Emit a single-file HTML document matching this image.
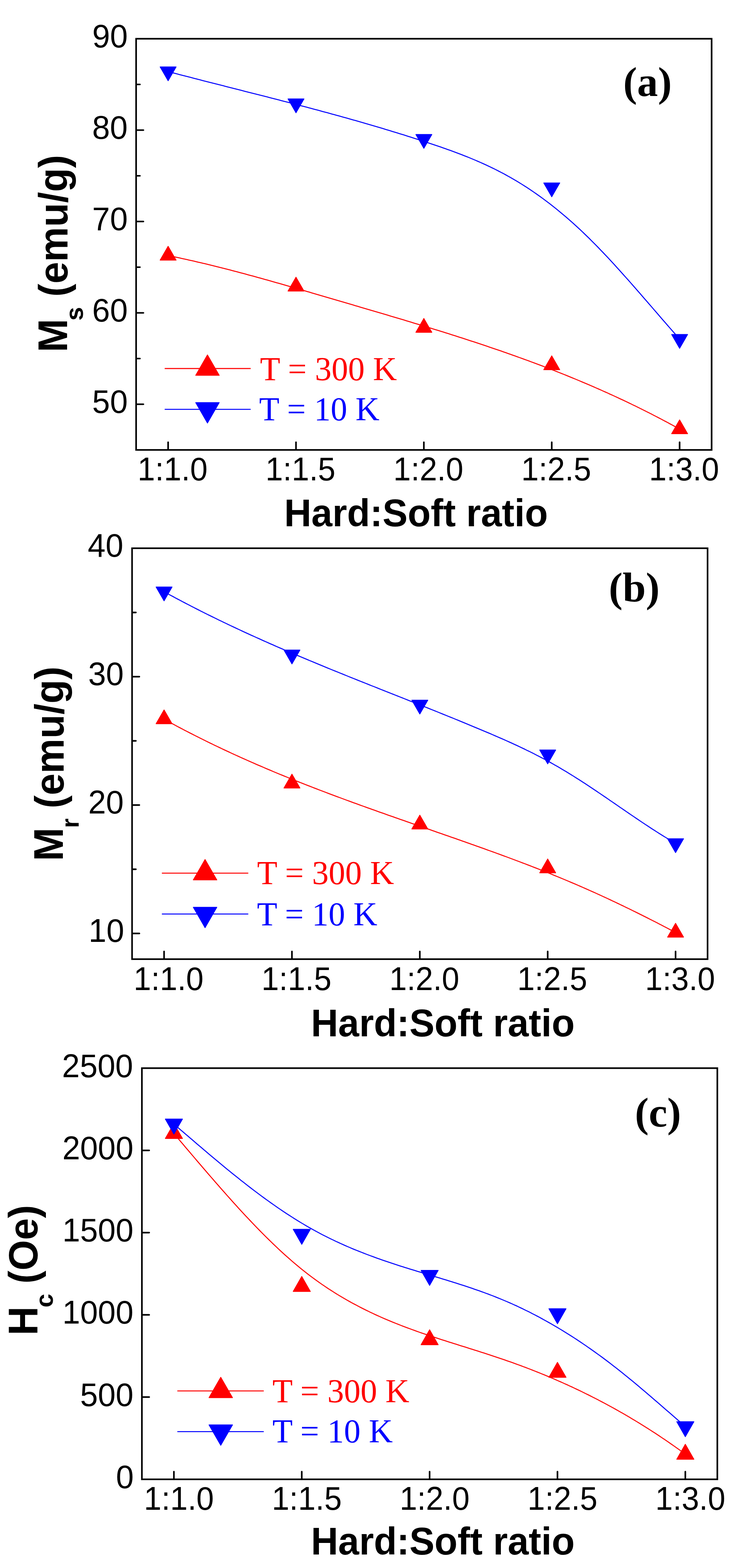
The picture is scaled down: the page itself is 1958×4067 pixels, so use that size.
<!DOCTYPE html>
<html><head><meta charset="utf-8"><title>Magnetic properties vs Hard:Soft ratio</title>
<style>html,body{margin:0;padding:0;background:#fff;}svg{display:block;}</style>
</head><body>
<svg width="1958" height="4067" viewBox="0 0 1958 4067">
<rect x="0" y="0" width="1958" height="4067" fill="#fff"/>
<path d="M435.8,662.8 L441.8,664.0 L447.8,665.3 L453.8,666.5 L459.8,667.8 L465.8,669.1 L471.8,670.4 L477.8,671.7 L483.8,673.0 L489.8,674.4 L495.8,675.7 L501.8,677.1 L507.8,678.5 L513.8,679.9 L519.8,681.3 L525.8,682.7 L531.8,684.1 L537.8,685.6 L543.8,687.0 L549.8,688.5 L555.8,690.0 L561.8,691.5 L567.8,693.0 L573.8,694.5 L579.8,696.0 L585.8,697.5 L591.8,699.1 L597.8,700.6 L603.8,702.2 L609.8,703.8 L615.8,705.3 L621.8,706.9 L627.8,708.5 L633.8,710.1 L639.8,711.8 L645.8,713.4 L651.8,715.0 L657.8,716.6 L663.8,718.3 L669.8,719.9 L675.8,721.6 L681.8,723.3 L687.8,724.9 L693.8,726.6 L699.8,728.3 L705.8,730.0 L711.8,731.7 L717.8,733.4 L723.8,735.1 L729.8,736.8 L735.8,738.5 L741.8,740.2 L747.8,742.0 L753.8,743.7 L759.8,745.4 L765.8,747.2 L771.8,748.9 L777.8,750.6 L783.8,752.4 L789.8,754.1 L795.8,755.9 L801.8,757.6 L807.8,759.4 L813.8,761.2 L819.8,762.9 L825.8,764.7 L831.8,766.4 L837.8,768.2 L843.8,770.0 L849.8,771.7 L855.8,773.5 L861.8,775.3 L867.8,777.0 L873.8,778.8 L879.8,780.5 L885.8,782.3 L891.8,784.1 L897.8,785.8 L903.8,787.6 L909.8,789.3 L915.8,791.1 L921.8,792.9 L927.8,794.6 L933.8,796.4 L939.8,798.2 L945.8,799.9 L951.8,801.7 L957.8,803.4 L963.8,805.2 L969.8,807.0 L975.8,808.7 L981.8,810.5 L987.8,812.3 L993.8,814.1 L999.8,815.8 L1005.8,817.6 L1011.8,819.4 L1017.8,821.2 L1023.8,823.0 L1029.8,824.7 L1035.8,826.5 L1041.8,828.3 L1047.8,830.1 L1053.8,831.9 L1059.8,833.7 L1065.8,835.5 L1071.8,837.4 L1077.8,839.2 L1083.8,841.0 L1089.8,842.8 L1095.8,844.6 L1101.8,846.5 L1107.8,848.3 L1113.8,850.2 L1119.8,852.0 L1125.8,853.9 L1131.8,855.7 L1137.8,857.6 L1143.8,859.5 L1149.8,861.3 L1155.8,863.2 L1161.8,865.1 L1167.8,867.0 L1173.8,868.9 L1179.8,870.8 L1185.8,872.7 L1191.8,874.7 L1197.8,876.6 L1203.8,878.5 L1209.8,880.5 L1215.8,882.4 L1221.8,884.4 L1227.8,886.3 L1233.8,888.3 L1239.8,890.3 L1245.8,892.3 L1251.8,894.3 L1257.8,896.3 L1263.8,898.3 L1269.8,900.4 L1275.8,902.4 L1281.8,904.4 L1287.8,906.5 L1293.8,908.6 L1299.8,910.6 L1305.8,912.7 L1311.8,914.8 L1317.8,916.9 L1323.8,919.0 L1329.8,921.2 L1335.8,923.3 L1341.8,925.4 L1347.8,927.6 L1353.8,929.8 L1359.8,931.9 L1365.8,934.1 L1371.8,936.3 L1377.8,938.6 L1383.8,940.8 L1389.8,943.0 L1395.8,945.3 L1401.8,947.5 L1407.8,949.8 L1413.8,952.1 L1419.8,954.4 L1425.8,956.7 L1431.8,959.1 L1437.8,961.4 L1443.8,963.8 L1449.8,966.1 L1455.8,968.5 L1461.8,970.9 L1467.8,973.3 L1473.8,975.8 L1479.8,978.2 L1485.8,980.7 L1491.8,983.1 L1497.8,985.6 L1503.8,988.1 L1509.8,990.7 L1515.8,993.2 L1521.8,995.7 L1527.8,998.3 L1533.8,1000.9 L1539.8,1003.5 L1545.8,1006.1 L1551.8,1008.7 L1557.8,1011.4 L1563.8,1014.1 L1569.8,1016.7 L1575.8,1019.4 L1581.8,1022.2 L1587.8,1024.9 L1593.8,1027.6 L1599.8,1030.4 L1605.8,1033.2 L1611.8,1036.0 L1617.8,1038.8 L1623.8,1041.7 L1629.8,1044.5 L1635.8,1047.4 L1641.8,1050.3 L1647.8,1053.2 L1653.8,1056.2 L1659.8,1059.1 L1665.8,1062.1 L1671.8,1065.1 L1677.8,1068.1 L1683.8,1071.2 L1689.8,1074.2 L1695.8,1077.3 L1701.8,1080.4 L1707.8,1083.5 L1713.8,1086.7 L1719.8,1089.9 L1725.8,1093.0 L1731.8,1096.2 L1737.8,1099.5 L1743.8,1102.7 L1749.8,1106.0 L1755.8,1109.3 L1761.8,1112.6 L1762.5,1113.0" fill="none" stroke="#ff0000" stroke-width="2.6" stroke-linejoin="round" stroke-linecap="round"/>
<path d="M435.5,185.5 L441.5,187.1 L447.5,188.7 L453.5,190.2 L459.5,191.8 L465.5,193.4 L471.5,194.9 L477.5,196.5 L483.5,198.0 L489.5,199.6 L495.5,201.1 L501.5,202.7 L507.5,204.2 L513.5,205.8 L519.5,207.3 L525.5,208.9 L531.5,210.4 L537.5,211.9 L543.5,213.5 L549.5,215.0 L555.5,216.5 L561.5,218.1 L567.5,219.6 L573.5,221.1 L579.5,222.6 L585.5,224.2 L591.5,225.7 L597.5,227.2 L603.5,228.7 L609.5,230.3 L615.5,231.8 L621.5,233.3 L627.5,234.8 L633.5,236.4 L639.5,237.9 L645.5,239.4 L651.5,240.9 L657.5,242.5 L663.5,244.0 L669.5,245.5 L675.5,247.0 L681.5,248.6 L687.5,250.1 L693.5,251.6 L699.5,253.2 L705.5,254.7 L711.5,256.3 L717.5,257.8 L723.5,259.3 L729.5,260.9 L735.5,262.4 L741.5,264.0 L747.5,265.6 L753.5,267.1 L759.5,268.7 L765.5,270.2 L771.5,271.8 L777.5,273.4 L783.5,275.0 L789.5,276.5 L795.5,278.1 L801.5,279.7 L807.5,281.3 L813.5,282.9 L819.5,284.5 L825.5,286.1 L831.5,287.7 L837.5,289.4 L843.5,291.0 L849.5,292.6 L855.5,294.2 L861.5,295.9 L867.5,297.5 L873.5,299.2 L879.5,300.8 L885.5,302.5 L891.5,304.2 L897.5,305.8 L903.5,307.5 L909.5,309.2 L915.5,310.9 L921.5,312.6 L927.5,314.3 L933.5,316.0 L939.5,317.7 L945.5,319.5 L951.5,321.2 L957.5,323.0 L963.5,324.7 L969.5,326.5 L975.5,328.2 L981.5,330.0 L987.5,331.8 L993.5,333.6 L999.5,335.4 L1005.5,337.2 L1011.5,339.0 L1017.5,340.9 L1023.5,342.7 L1029.5,344.5 L1035.5,346.4 L1041.5,348.3 L1047.5,350.1 L1053.5,352.0 L1059.5,353.9 L1065.5,355.8 L1071.5,357.8 L1077.5,359.7 L1083.5,361.6 L1089.5,363.6 L1095.5,365.5 L1101.5,367.5 L1107.5,369.5 L1113.5,371.5 L1119.5,373.5 L1125.5,375.5 L1131.5,377.5 L1137.5,379.6 L1143.5,381.6 L1149.5,383.7 L1155.5,385.8 L1161.5,388.0 L1167.5,390.1 L1173.5,392.3 L1179.5,394.5 L1185.5,396.8 L1191.5,399.0 L1197.5,401.3 L1203.5,403.7 L1209.5,406.0 L1215.5,408.4 L1221.5,410.9 L1227.5,413.4 L1233.5,415.9 L1239.5,418.5 L1245.5,421.1 L1251.5,423.8 L1257.5,426.5 L1263.5,429.3 L1269.5,432.1 L1275.5,435.0 L1281.5,437.9 L1287.5,440.9 L1293.5,444.0 L1299.5,447.1 L1305.5,450.2 L1311.5,453.5 L1317.5,456.8 L1323.5,460.1 L1329.5,463.6 L1335.5,467.1 L1341.5,470.7 L1347.5,474.3 L1353.5,478.0 L1359.5,481.8 L1365.5,485.7 L1371.5,489.6 L1377.5,493.6 L1383.5,497.7 L1389.5,501.9 L1395.5,506.1 L1401.5,510.4 L1407.5,514.7 L1413.5,519.2 L1419.5,523.7 L1425.5,528.3 L1431.5,533.0 L1437.5,537.7 L1443.5,542.5 L1449.5,547.4 L1455.5,552.4 L1461.5,557.4 L1467.5,562.5 L1473.5,567.7 L1479.5,573.0 L1485.5,578.3 L1491.5,583.7 L1497.5,589.2 L1503.5,594.8 L1509.5,600.4 L1515.5,606.2 L1521.5,612.0 L1527.5,617.8 L1533.5,623.8 L1539.5,629.8 L1545.5,635.9 L1551.5,642.0 L1557.5,648.3 L1563.5,654.5 L1569.5,660.9 L1575.5,667.2 L1581.5,673.7 L1587.5,680.2 L1593.5,686.7 L1599.5,693.3 L1605.5,699.9 L1611.5,706.6 L1617.5,713.3 L1623.5,720.0 L1629.5,726.7 L1635.5,733.5 L1641.5,740.4 L1647.5,747.2 L1653.5,754.1 L1659.5,760.9 L1665.5,767.8 L1671.5,774.8 L1677.5,781.7 L1683.5,788.6 L1689.5,795.5 L1695.5,802.5 L1701.5,809.4 L1707.5,816.4 L1713.5,823.3 L1719.5,830.3 L1725.5,837.2 L1731.5,844.1 L1737.5,851.0 L1743.5,857.9 L1749.5,864.7 L1755.5,871.6 L1761.5,878.4 L1762.5,879.5" fill="none" stroke="#0000ff" stroke-width="2.6" stroke-linejoin="round" stroke-linecap="round"/>
<polygon points="436.00,638.80 456.75,674.80 415.25,674.80" fill="#ff0000" stroke="#ff0000" stroke-width="2" stroke-linejoin="round"/>
<polygon points="767.62,718.90 788.38,754.90 746.88,754.90" fill="#ff0000" stroke="#ff0000" stroke-width="2" stroke-linejoin="round"/>
<polygon points="1099.25,825.90 1120.00,861.90 1078.50,861.90" fill="#ff0000" stroke="#ff0000" stroke-width="2" stroke-linejoin="round"/>
<polygon points="1430.88,922.90 1451.62,958.90 1410.12,958.90" fill="#ff0000" stroke="#ff0000" stroke-width="2" stroke-linejoin="round"/>
<polygon points="1762.50,1089.00 1783.25,1125.00 1741.75,1125.00" fill="#ff0000" stroke="#ff0000" stroke-width="2" stroke-linejoin="round"/>
<polygon points="436.00,209.50 456.75,173.50 415.25,173.50" fill="#0000ff" stroke="#0000ff" stroke-width="2" stroke-linejoin="round"/>
<polygon points="767.62,292.60 788.38,256.60 746.88,256.60" fill="#0000ff" stroke="#0000ff" stroke-width="2" stroke-linejoin="round"/>
<polygon points="1099.25,384.80 1120.00,348.80 1078.50,348.80" fill="#0000ff" stroke="#0000ff" stroke-width="2" stroke-linejoin="round"/>
<polygon points="1430.88,510.40 1451.62,474.40 1410.12,474.40" fill="#0000ff" stroke="#0000ff" stroke-width="2" stroke-linejoin="round"/>
<polygon points="1762.50,903.50 1783.25,867.50 1741.75,867.50" fill="#0000ff" stroke="#0000ff" stroke-width="2" stroke-linejoin="round"/>
<rect x="353" y="100.5" width="1492.50" height="1066.50" fill="none" stroke="#000" stroke-width="4.2"/>
<line x1="354.00" y1="1048.50" x2="371.90" y2="1048.50" stroke="#000" stroke-width="4.2" stroke-linecap="round"/>
<line x1="354.00" y1="811.50" x2="371.90" y2="811.50" stroke="#000" stroke-width="4.2" stroke-linecap="round"/>
<line x1="354.00" y1="574.50" x2="371.90" y2="574.50" stroke="#000" stroke-width="4.2" stroke-linecap="round"/>
<line x1="354.00" y1="337.50" x2="371.90" y2="337.50" stroke="#000" stroke-width="4.2" stroke-linecap="round"/>
<line x1="354.00" y1="930.00" x2="362.90" y2="930.00" stroke="#000" stroke-width="4.2" stroke-linecap="round"/>
<line x1="354.00" y1="693.00" x2="362.90" y2="693.00" stroke="#000" stroke-width="4.2" stroke-linecap="round"/>
<line x1="354.00" y1="456.00" x2="362.90" y2="456.00" stroke="#000" stroke-width="4.2" stroke-linecap="round"/>
<line x1="354.00" y1="219.00" x2="362.90" y2="219.00" stroke="#000" stroke-width="4.2" stroke-linecap="round"/>
<line x1="436.00" y1="1166.00" x2="436.00" y2="1147.10" stroke="#000" stroke-width="4.2" stroke-linecap="round"/>
<line x1="767.62" y1="1166.00" x2="767.62" y2="1147.10" stroke="#000" stroke-width="4.2" stroke-linecap="round"/>
<line x1="1099.25" y1="1166.00" x2="1099.25" y2="1147.10" stroke="#000" stroke-width="4.2" stroke-linecap="round"/>
<line x1="1430.88" y1="1166.00" x2="1430.88" y2="1147.10" stroke="#000" stroke-width="4.2" stroke-linecap="round"/>
<line x1="1762.50" y1="1166.00" x2="1762.50" y2="1147.10" stroke="#000" stroke-width="4.2" stroke-linecap="round"/>
<text id="yl_a_50" transform="translate(331.30,1071.14) scale(0.975,1)" font-family="'Liberation Sans',Arial,sans-serif" font-size="85" font-weight="normal" fill="#000" text-anchor="end">50</text>
<text id="yl_a_60" transform="translate(331.30,834.14) scale(0.975,1)" font-family="'Liberation Sans',Arial,sans-serif" font-size="85" font-weight="normal" fill="#000" text-anchor="end">60</text>
<text id="yl_a_70" transform="translate(331.30,597.14) scale(0.975,1)" font-family="'Liberation Sans',Arial,sans-serif" font-size="85" font-weight="normal" fill="#000" text-anchor="end">70</text>
<text id="yl_a_80" transform="translate(331.15,359.90) scale(0.975,1)" font-family="'Liberation Sans',Arial,sans-serif" font-size="85" font-weight="normal" fill="#000" text-anchor="end">80</text>
<text id="yl_a_90" transform="translate(331.45,123.35) scale(0.975,1)" font-family="'Liberation Sans',Arial,sans-serif" font-size="85" font-weight="normal" fill="#000" text-anchor="end">90</text>
<text id="xl_a_0" transform="translate(356.85,1245.85) scale(0.96,1)" font-family="'Liberation Sans',Arial,sans-serif" font-size="85" font-weight="normal" fill="#000" text-anchor="start">1:1.0</text>
<text id="xl_a_1" transform="translate(688.48,1245.85) scale(0.96,1)" font-family="'Liberation Sans',Arial,sans-serif" font-size="85" font-weight="normal" fill="#000" text-anchor="start">1:1.5</text>
<text id="xl_a_2" transform="translate(1020.10,1245.85) scale(0.96,1)" font-family="'Liberation Sans',Arial,sans-serif" font-size="85" font-weight="normal" fill="#000" text-anchor="start">1:2.0</text>
<text id="xl_a_3" transform="translate(1351.72,1245.85) scale(0.96,1)" font-family="'Liberation Sans',Arial,sans-serif" font-size="85" font-weight="normal" fill="#000" text-anchor="start">1:2.5</text>
<text id="xl_a_4" transform="translate(1683.35,1245.85) scale(0.96,1)" font-family="'Liberation Sans',Arial,sans-serif" font-size="85" font-weight="normal" fill="#000" text-anchor="start">1:3.0</text>
<text id="xt_a" transform="translate(737.00,1365.35) scale(0.977,1)" font-family="'Liberation Sans',Arial,sans-serif" font-size="100" font-weight="bold" fill="#000" text-anchor="start">Hard:Soft ratio</text>
<text id="pl_a" transform="translate(1616.25,249.40) scale(1.0,1)" font-family="'Liberation Serif','Times New Roman',serif" font-size="108" font-weight="bold" fill="#000" text-anchor="start">(a)</text>
<line x1="427.1" y1="955.9" x2="650.1" y2="955.9" stroke="#ff0000" stroke-width="2.6"/>
<line x1="427.1" y1="1061.8" x2="650.1" y2="1061.8" stroke="#0000ff" stroke-width="2.6"/>
<polygon points="538.00,920.57 568.50,973.57 507.50,973.57" fill="#ff0000" stroke="#ff0000" stroke-width="2" stroke-linejoin="round"/>
<polygon points="538.00,1097.13 568.50,1044.13 507.50,1044.13" fill="#0000ff" stroke="#0000ff" stroke-width="2" stroke-linejoin="round"/>
<text id="lg1_a" transform="translate(674.35,985.50) scale(1.0,1)" font-family="'Liberation Serif','Times New Roman',serif" font-size="86" font-weight="normal" fill="#ff0000" text-anchor="start">T = 300 K</text>
<text id="lg2_a" transform="translate(672.00,1089.75) scale(1.0,1)" font-family="'Liberation Serif','Times New Roman',serif" font-size="86" font-weight="normal" fill="#0000ff" text-anchor="start">T = 10 K</text>
<path d="M425.3,1865.3 L431.3,1868.6 L437.3,1871.9 L443.3,1875.1 L449.3,1878.4 L455.3,1881.6 L461.3,1884.8 L467.3,1888.0 L473.3,1891.1 L479.3,1894.3 L485.3,1897.4 L491.3,1900.5 L497.3,1903.5 L503.3,1906.6 L509.3,1909.6 L515.3,1912.7 L521.3,1915.7 L527.3,1918.7 L533.3,1921.6 L539.3,1924.6 L545.3,1927.5 L551.3,1930.4 L557.3,1933.3 L563.3,1936.2 L569.3,1939.0 L575.3,1941.9 L581.3,1944.7 L587.3,1947.5 L593.3,1950.3 L599.3,1953.1 L605.3,1955.9 L611.3,1958.6 L617.3,1961.3 L623.3,1964.1 L629.3,1966.8 L635.3,1969.4 L641.3,1972.1 L647.3,1974.8 L653.3,1977.4 L659.3,1980.0 L665.3,1982.7 L671.3,1985.3 L677.3,1987.8 L683.3,1990.4 L689.3,1993.0 L695.3,1995.5 L701.3,1998.0 L707.3,2000.6 L713.3,2003.1 L719.3,2005.6 L725.3,2008.1 L731.3,2010.5 L737.3,2013.0 L743.3,2015.4 L749.3,2017.9 L755.3,2020.3 L761.3,2022.7 L767.3,2025.1 L773.3,2027.5 L779.3,2029.9 L785.3,2032.2 L791.3,2034.6 L797.3,2037.0 L803.3,2039.3 L809.3,2041.6 L815.3,2044.0 L821.3,2046.3 L827.3,2048.6 L833.3,2050.9 L839.3,2053.1 L845.3,2055.4 L851.3,2057.7 L857.3,2060.0 L863.3,2062.2 L869.3,2064.5 L875.3,2066.7 L881.3,2068.9 L887.3,2071.1 L893.3,2073.4 L899.3,2075.6 L905.3,2077.8 L911.3,2080.0 L917.3,2082.2 L923.3,2084.3 L929.3,2086.5 L935.3,2088.7 L941.3,2090.9 L947.3,2093.0 L953.3,2095.2 L959.3,2097.3 L965.3,2099.5 L971.3,2101.6 L977.3,2103.8 L983.3,2105.9 L989.3,2108.0 L995.3,2110.1 L1001.3,2112.3 L1007.3,2114.4 L1013.3,2116.5 L1019.3,2118.6 L1025.3,2120.7 L1031.3,2122.8 L1037.3,2124.9 L1043.3,2127.0 L1049.3,2129.1 L1055.3,2131.2 L1061.3,2133.3 L1067.3,2135.4 L1073.3,2137.5 L1079.3,2139.6 L1085.3,2141.7 L1091.3,2143.8 L1097.3,2145.9 L1103.3,2148.0 L1109.3,2150.0 L1115.3,2152.1 L1121.3,2154.2 L1127.3,2156.3 L1133.3,2158.4 L1139.3,2160.5 L1145.3,2162.6 L1151.3,2164.7 L1157.3,2166.8 L1163.3,2168.8 L1169.3,2170.9 L1175.3,2173.0 L1181.3,2175.1 L1187.3,2177.2 L1193.3,2179.3 L1199.3,2181.5 L1205.3,2183.6 L1211.3,2185.7 L1217.3,2187.8 L1223.3,2189.9 L1229.3,2192.0 L1235.3,2194.2 L1241.3,2196.3 L1247.3,2198.5 L1253.3,2200.6 L1259.3,2202.8 L1265.3,2204.9 L1271.3,2207.1 L1277.3,2209.2 L1283.3,2211.4 L1289.3,2213.6 L1295.3,2215.8 L1301.3,2218.0 L1307.3,2220.2 L1313.3,2222.4 L1319.3,2224.6 L1325.3,2226.9 L1331.3,2229.1 L1337.3,2231.4 L1343.3,2233.6 L1349.3,2235.9 L1355.3,2238.2 L1361.3,2240.4 L1367.3,2242.7 L1373.3,2245.0 L1379.3,2247.4 L1385.3,2249.7 L1391.3,2252.0 L1397.3,2254.4 L1403.3,2256.7 L1409.3,2259.1 L1415.3,2261.5 L1421.3,2263.9 L1427.3,2266.3 L1433.3,2268.8 L1439.3,2271.2 L1445.3,2273.6 L1451.3,2276.1 L1457.3,2278.6 L1463.3,2281.1 L1469.3,2283.6 L1475.3,2286.1 L1481.3,2288.7 L1487.3,2291.2 L1493.3,2293.8 L1499.3,2296.4 L1505.3,2299.0 L1511.3,2301.6 L1517.3,2304.2 L1523.3,2306.9 L1529.3,2309.6 L1535.3,2312.2 L1541.3,2314.9 L1547.3,2317.6 L1553.3,2320.4 L1559.3,2323.1 L1565.3,2325.9 L1571.3,2328.6 L1577.3,2331.4 L1583.3,2334.2 L1589.3,2337.1 L1595.3,2339.9 L1601.3,2342.7 L1607.3,2345.6 L1613.3,2348.5 L1619.3,2351.4 L1625.3,2354.3 L1631.3,2357.2 L1637.3,2360.1 L1643.3,2363.1 L1649.3,2366.0 L1655.3,2369.0 L1661.3,2372.0 L1667.3,2375.0 L1673.3,2378.0 L1679.3,2381.0 L1685.3,2384.1 L1691.3,2387.1 L1697.3,2390.2 L1703.3,2393.2 L1709.3,2396.3 L1715.3,2399.4 L1721.3,2402.6 L1727.3,2405.7 L1733.3,2408.8 L1739.3,2412.0 L1745.3,2415.1 L1751.3,2418.3 L1752.0,2418.7" fill="none" stroke="#ff0000" stroke-width="2.6" stroke-linejoin="round" stroke-linecap="round"/>
<path d="M425.0,1534.5 L431.0,1537.8 L437.0,1541.1 L443.0,1544.3 L449.0,1547.5 L455.0,1550.8 L461.0,1554.0 L467.0,1557.2 L473.0,1560.3 L479.0,1563.5 L485.0,1566.6 L491.0,1569.7 L497.0,1572.8 L503.0,1575.9 L509.0,1579.0 L515.0,1582.0 L521.0,1585.1 L527.0,1588.1 L533.0,1591.1 L539.0,1594.1 L545.0,1597.0 L551.0,1600.0 L557.0,1602.9 L563.0,1605.9 L569.0,1608.8 L575.0,1611.7 L581.0,1614.6 L587.0,1617.4 L593.0,1620.3 L599.0,1623.2 L605.0,1626.0 L611.0,1628.8 L617.0,1631.6 L623.0,1634.4 L629.0,1637.2 L635.0,1640.0 L641.0,1642.7 L647.0,1645.5 L653.0,1648.2 L659.0,1650.9 L665.0,1653.6 L671.0,1656.3 L677.0,1659.0 L683.0,1661.7 L689.0,1664.4 L695.0,1667.0 L701.0,1669.7 L707.0,1672.3 L713.0,1675.0 L719.0,1677.6 L725.0,1680.2 L731.0,1682.8 L737.0,1685.4 L743.0,1688.0 L749.0,1690.5 L755.0,1693.1 L761.0,1695.7 L767.0,1698.2 L773.0,1700.8 L779.0,1703.3 L785.0,1705.8 L791.0,1708.3 L797.0,1710.8 L803.0,1713.4 L809.0,1715.8 L815.0,1718.3 L821.0,1720.8 L827.0,1723.3 L833.0,1725.8 L839.0,1728.2 L845.0,1730.7 L851.0,1733.2 L857.0,1735.6 L863.0,1738.1 L869.0,1740.5 L875.0,1742.9 L881.0,1745.4 L887.0,1747.8 L893.0,1750.2 L899.0,1752.6 L905.0,1755.1 L911.0,1757.5 L917.0,1759.9 L923.0,1762.3 L929.0,1764.7 L935.0,1767.1 L941.0,1769.5 L947.0,1771.9 L953.0,1774.3 L959.0,1776.7 L965.0,1779.1 L971.0,1781.4 L977.0,1783.8 L983.0,1786.2 L989.0,1788.6 L995.0,1791.0 L1001.0,1793.4 L1007.0,1795.7 L1013.0,1798.1 L1019.0,1800.5 L1025.0,1802.9 L1031.0,1805.3 L1037.0,1807.6 L1043.0,1810.0 L1049.0,1812.4 L1055.0,1814.8 L1061.0,1817.2 L1067.0,1819.6 L1073.0,1821.9 L1079.0,1824.3 L1085.0,1826.7 L1091.0,1829.1 L1097.0,1831.5 L1103.0,1833.9 L1109.0,1836.3 L1115.0,1838.7 L1121.0,1841.1 L1127.0,1843.5 L1133.0,1845.9 L1139.0,1848.4 L1145.0,1850.8 L1151.0,1853.2 L1157.0,1855.6 L1163.0,1858.1 L1169.0,1860.5 L1175.0,1862.9 L1181.0,1865.4 L1187.0,1867.8 L1193.0,1870.3 L1199.0,1872.8 L1205.0,1875.2 L1211.0,1877.7 L1217.0,1880.2 L1223.0,1882.7 L1229.0,1885.2 L1235.0,1887.7 L1241.0,1890.2 L1247.0,1892.7 L1253.0,1895.2 L1259.0,1897.7 L1265.0,1900.3 L1271.0,1902.8 L1277.0,1905.4 L1283.0,1908.0 L1289.0,1910.6 L1295.0,1913.2 L1301.0,1915.8 L1307.0,1918.4 L1313.0,1921.1 L1319.0,1923.8 L1325.0,1926.5 L1331.0,1929.2 L1337.0,1932.0 L1343.0,1934.8 L1349.0,1937.6 L1355.0,1940.5 L1361.0,1943.3 L1367.0,1946.3 L1373.0,1949.2 L1379.0,1952.2 L1385.0,1955.2 L1391.0,1958.3 L1397.0,1961.4 L1403.0,1964.5 L1409.0,1967.7 L1415.0,1970.9 L1421.0,1974.2 L1427.0,1977.5 L1433.0,1980.9 L1439.0,1984.3 L1445.0,1987.7 L1451.0,1991.2 L1457.0,1994.8 L1463.0,1998.3 L1469.0,2001.9 L1475.0,2005.6 L1481.0,2009.3 L1487.0,2013.0 L1493.0,2016.8 L1499.0,2020.6 L1505.0,2024.4 L1511.0,2028.3 L1517.0,2032.2 L1523.0,2036.1 L1529.0,2040.1 L1535.0,2044.1 L1541.0,2048.1 L1547.0,2052.1 L1553.0,2056.2 L1559.0,2060.3 L1565.0,2064.3 L1571.0,2068.4 L1577.0,2072.5 L1583.0,2076.7 L1589.0,2080.8 L1595.0,2084.9 L1601.0,2089.0 L1607.0,2093.2 L1613.0,2097.3 L1619.0,2101.4 L1625.0,2105.5 L1631.0,2109.6 L1637.0,2113.7 L1643.0,2117.8 L1649.0,2121.9 L1655.0,2125.9 L1661.0,2130.0 L1667.0,2134.0 L1673.0,2138.0 L1679.0,2141.9 L1685.0,2145.9 L1691.0,2149.8 L1697.0,2153.7 L1703.0,2157.5 L1709.0,2161.3 L1715.0,2165.1 L1721.0,2168.8 L1727.0,2172.5 L1733.0,2176.2 L1739.0,2179.8 L1745.0,2183.3 L1751.0,2186.8 L1752.0,2187.4" fill="none" stroke="#0000ff" stroke-width="2.6" stroke-linejoin="round" stroke-linecap="round"/>
<polygon points="425.50,1841.30 446.25,1877.30 404.75,1877.30" fill="#ff0000" stroke="#ff0000" stroke-width="2" stroke-linejoin="round"/>
<polygon points="757.12,2007.90 777.88,2043.90 736.38,2043.90" fill="#ff0000" stroke="#ff0000" stroke-width="2" stroke-linejoin="round"/>
<polygon points="1088.75,2114.20 1109.50,2150.20 1068.00,2150.20" fill="#ff0000" stroke="#ff0000" stroke-width="2" stroke-linejoin="round"/>
<polygon points="1420.38,2227.90 1441.12,2263.90 1399.62,2263.90" fill="#ff0000" stroke="#ff0000" stroke-width="2" stroke-linejoin="round"/>
<polygon points="1752.00,2394.70 1772.75,2430.70 1731.25,2430.70" fill="#ff0000" stroke="#ff0000" stroke-width="2" stroke-linejoin="round"/>
<polygon points="425.50,1558.50 446.25,1522.50 404.75,1522.50" fill="#0000ff" stroke="#0000ff" stroke-width="2" stroke-linejoin="round"/>
<polygon points="757.12,1722.10 777.88,1686.10 736.38,1686.10" fill="#0000ff" stroke="#0000ff" stroke-width="2" stroke-linejoin="round"/>
<polygon points="1088.75,1852.00 1109.50,1816.00 1068.00,1816.00" fill="#0000ff" stroke="#0000ff" stroke-width="2" stroke-linejoin="round"/>
<polygon points="1420.38,1981.30 1441.12,1945.30 1399.62,1945.30" fill="#0000ff" stroke="#0000ff" stroke-width="2" stroke-linejoin="round"/>
<polygon points="1752.00,2211.40 1772.75,2175.40 1731.25,2175.40" fill="#0000ff" stroke="#0000ff" stroke-width="2" stroke-linejoin="round"/>
<rect x="342.5" y="1422" width="1492.50" height="1065.80" fill="none" stroke="#000" stroke-width="4.2"/>
<line x1="343.50" y1="2421.19" x2="361.40" y2="2421.19" stroke="#000" stroke-width="4.2" stroke-linecap="round"/>
<line x1="343.50" y1="2088.12" x2="361.40" y2="2088.12" stroke="#000" stroke-width="4.2" stroke-linecap="round"/>
<line x1="343.50" y1="1755.06" x2="361.40" y2="1755.06" stroke="#000" stroke-width="4.2" stroke-linecap="round"/>
<line x1="343.50" y1="2254.66" x2="352.40" y2="2254.66" stroke="#000" stroke-width="4.2" stroke-linecap="round"/>
<line x1="343.50" y1="1921.59" x2="352.40" y2="1921.59" stroke="#000" stroke-width="4.2" stroke-linecap="round"/>
<line x1="343.50" y1="1588.53" x2="352.40" y2="1588.53" stroke="#000" stroke-width="4.2" stroke-linecap="round"/>
<line x1="425.50" y1="2486.80" x2="425.50" y2="2467.90" stroke="#000" stroke-width="4.2" stroke-linecap="round"/>
<line x1="757.12" y1="2486.80" x2="757.12" y2="2467.90" stroke="#000" stroke-width="4.2" stroke-linecap="round"/>
<line x1="1088.75" y1="2486.80" x2="1088.75" y2="2467.90" stroke="#000" stroke-width="4.2" stroke-linecap="round"/>
<line x1="1420.38" y1="2486.80" x2="1420.38" y2="2467.90" stroke="#000" stroke-width="4.2" stroke-linecap="round"/>
<line x1="1752.00" y1="2486.80" x2="1752.00" y2="2467.90" stroke="#000" stroke-width="4.2" stroke-linecap="round"/>
<text id="yl_b_10" transform="translate(322.05,2443.04) scale(0.975,1)" font-family="'Liberation Sans',Arial,sans-serif" font-size="85" font-weight="normal" fill="#000" text-anchor="end">10</text>
<text id="yl_b_20" transform="translate(320.91,2110.24) scale(0.975,1)" font-family="'Liberation Sans',Arial,sans-serif" font-size="85" font-weight="normal" fill="#000" text-anchor="end">20</text>
<text id="yl_b_30" transform="translate(320.91,1777.17) scale(0.975,1)" font-family="'Liberation Sans',Arial,sans-serif" font-size="85" font-weight="normal" fill="#000" text-anchor="end">30</text>
<text id="yl_b_40" transform="translate(319.80,1444.40) scale(0.975,1)" font-family="'Liberation Sans',Arial,sans-serif" font-size="85" font-weight="normal" fill="#000" text-anchor="end">40</text>
<text id="xl_b_0" transform="translate(346.50,2567.55) scale(0.96,1)" font-family="'Liberation Sans',Arial,sans-serif" font-size="85" font-weight="normal" fill="#000" text-anchor="start">1:1.0</text>
<text id="xl_b_1" transform="translate(678.12,2567.55) scale(0.96,1)" font-family="'Liberation Sans',Arial,sans-serif" font-size="85" font-weight="normal" fill="#000" text-anchor="start">1:1.5</text>
<text id="xl_b_2" transform="translate(1009.75,2567.55) scale(0.96,1)" font-family="'Liberation Sans',Arial,sans-serif" font-size="85" font-weight="normal" fill="#000" text-anchor="start">1:2.0</text>
<text id="xl_b_3" transform="translate(1341.38,2567.55) scale(0.96,1)" font-family="'Liberation Sans',Arial,sans-serif" font-size="85" font-weight="normal" fill="#000" text-anchor="start">1:2.5</text>
<text id="xl_b_4" transform="translate(1673.00,2567.55) scale(0.96,1)" font-family="'Liberation Sans',Arial,sans-serif" font-size="85" font-weight="normal" fill="#000" text-anchor="start">1:3.0</text>
<text id="xt_b" transform="translate(806.55,2688.40) scale(0.977,1)" font-family="'Liberation Sans',Arial,sans-serif" font-size="100" font-weight="bold" fill="#000" text-anchor="start">Hard:Soft ratio</text>
<text id="pl_b" transform="translate(1578.70,1560.00) scale(1.0,1)" font-family="'Liberation Serif','Times New Roman',serif" font-size="108" font-weight="bold" fill="#000" text-anchor="start">(b)</text>
<line x1="419.8" y1="2264.7" x2="643.9" y2="2264.7" stroke="#ff0000" stroke-width="2.6"/>
<line x1="419.8" y1="2370.8" x2="643.9" y2="2370.8" stroke="#0000ff" stroke-width="2.6"/>
<polygon points="531.80,2229.37 562.30,2282.37 501.30,2282.37" fill="#ff0000" stroke="#ff0000" stroke-width="2" stroke-linejoin="round"/>
<polygon points="531.80,2406.13 562.30,2353.13 501.30,2353.13" fill="#0000ff" stroke="#0000ff" stroke-width="2" stroke-linejoin="round"/>
<text id="lg1_b" transform="translate(666.65,2293.25) scale(1.0,1)" font-family="'Liberation Serif','Times New Roman',serif" font-size="86" font-weight="normal" fill="#ff0000" text-anchor="start">T = 300 K</text>
<text id="lg2_b" transform="translate(666.40,2399.55) scale(1.0,1)" font-family="'Liberation Serif','Times New Roman',serif" font-size="86" font-weight="normal" fill="#0000ff" text-anchor="start">T = 10 K</text>
<path d="M450.8,2939.9 L456.8,2947.0 L462.8,2954.0 L468.8,2961.1 L474.8,2968.2 L480.8,2975.3 L486.8,2982.4 L492.8,2989.4 L498.8,2996.5 L504.8,3003.5 L510.8,3010.6 L516.8,3017.6 L522.8,3024.6 L528.8,3031.6 L534.8,3038.6 L540.8,3045.6 L546.8,3052.5 L552.8,3059.4 L558.8,3066.3 L564.8,3073.2 L570.8,3080.1 L576.8,3086.9 L582.8,3093.7 L588.8,3100.5 L594.8,3107.2 L600.8,3113.9 L606.8,3120.6 L612.8,3127.2 L618.8,3133.8 L624.8,3140.3 L630.8,3146.8 L636.8,3153.3 L642.8,3159.7 L648.8,3166.0 L654.8,3172.3 L660.8,3178.6 L666.8,3184.8 L672.8,3191.0 L678.8,3197.1 L684.8,3203.1 L690.8,3209.1 L696.8,3215.0 L702.8,3220.9 L708.8,3226.7 L714.8,3232.4 L720.8,3238.1 L726.8,3243.7 L732.8,3249.2 L738.8,3254.7 L744.8,3260.0 L750.8,3265.3 L756.8,3270.6 L762.8,3275.7 L768.8,3280.8 L774.8,3285.8 L780.8,3290.7 L786.8,3295.5 L792.8,3300.2 L798.8,3304.9 L804.8,3309.5 L810.8,3314.0 L816.8,3318.4 L822.8,3322.7 L828.8,3327.0 L834.8,3331.2 L840.8,3335.3 L846.8,3339.3 L852.8,3343.3 L858.8,3347.2 L864.8,3351.0 L870.8,3354.8 L876.8,3358.5 L882.8,3362.1 L888.8,3365.7 L894.8,3369.2 L900.8,3372.6 L906.8,3376.0 L912.8,3379.3 L918.8,3382.5 L924.8,3385.7 L930.8,3388.9 L936.8,3392.0 L942.8,3395.0 L948.8,3398.0 L954.8,3400.9 L960.8,3403.8 L966.8,3406.7 L972.8,3409.5 L978.8,3412.2 L984.8,3414.9 L990.8,3417.6 L996.8,3420.2 L1002.8,3422.7 L1008.8,3425.3 L1014.8,3427.8 L1020.8,3430.2 L1026.8,3432.6 L1032.8,3435.0 L1038.8,3437.4 L1044.8,3439.7 L1050.8,3442.0 L1056.8,3444.2 L1062.8,3446.4 L1068.8,3448.6 L1074.8,3450.8 L1080.8,3452.9 L1086.8,3455.1 L1092.8,3457.2 L1098.8,3459.2 L1104.8,3461.3 L1110.8,3463.3 L1116.8,3465.3 L1122.8,3467.3 L1128.8,3469.3 L1134.8,3471.3 L1140.8,3473.2 L1146.8,3475.2 L1152.8,3477.1 L1158.8,3479.0 L1164.8,3480.9 L1170.8,3482.8 L1176.8,3484.7 L1182.8,3486.6 L1188.8,3488.5 L1194.8,3490.4 L1200.8,3492.3 L1206.8,3494.1 L1212.8,3496.0 L1218.8,3497.9 L1224.8,3499.8 L1230.8,3501.7 L1236.8,3503.6 L1242.8,3505.5 L1248.8,3507.4 L1254.8,3509.3 L1260.8,3511.3 L1266.8,3513.2 L1272.8,3515.2 L1278.8,3517.2 L1284.8,3519.2 L1290.8,3521.2 L1296.8,3523.2 L1302.8,3525.2 L1308.8,3527.3 L1314.8,3529.4 L1320.8,3531.5 L1326.8,3533.6 L1332.8,3535.8 L1338.8,3537.9 L1344.8,3540.1 L1350.8,3542.3 L1356.8,3544.6 L1362.8,3546.8 L1368.8,3549.1 L1374.8,3551.4 L1380.8,3553.8 L1386.8,3556.1 L1392.8,3558.5 L1398.8,3560.9 L1404.8,3563.4 L1410.8,3565.8 L1416.8,3568.3 L1422.8,3570.8 L1428.8,3573.3 L1434.8,3575.9 L1440.8,3578.5 L1446.8,3581.1 L1452.8,3583.7 L1458.8,3586.4 L1464.8,3589.1 L1470.8,3591.8 L1476.8,3594.6 L1482.8,3597.3 L1488.8,3600.1 L1494.8,3603.0 L1500.8,3605.8 L1506.8,3608.7 L1512.8,3611.6 L1518.8,3614.6 L1524.8,3617.5 L1530.8,3620.5 L1536.8,3623.6 L1542.8,3626.6 L1548.8,3629.7 L1554.8,3632.8 L1560.8,3636.0 L1566.8,3639.1 L1572.8,3642.4 L1578.8,3645.6 L1584.8,3648.9 L1590.8,3652.2 L1596.8,3655.5 L1602.8,3658.9 L1608.8,3662.3 L1614.8,3665.7 L1620.8,3669.2 L1626.8,3672.7 L1632.8,3676.2 L1638.8,3679.8 L1644.8,3683.4 L1650.8,3687.0 L1656.8,3690.6 L1662.8,3694.3 L1668.8,3698.1 L1674.8,3701.8 L1680.8,3705.6 L1686.8,3709.5 L1692.8,3713.3 L1698.8,3717.2 L1704.8,3721.2 L1710.8,3725.1 L1716.8,3729.2 L1722.8,3733.2 L1728.8,3737.3 L1734.8,3741.4 L1740.8,3745.6 L1746.8,3749.7 L1752.8,3754.0 L1758.8,3758.2 L1764.8,3762.5 L1770.8,3766.9 L1776.8,3771.3 L1777.8,3772.0" fill="none" stroke="#ff0000" stroke-width="2.6" stroke-linejoin="round" stroke-linecap="round"/>
<path d="M450.8,2915.5 L456.8,2920.6 L462.8,2925.8 L468.8,2930.9 L474.8,2936.1 L480.8,2941.2 L486.8,2946.3 L492.8,2951.5 L498.8,2956.6 L504.8,2961.7 L510.8,2966.9 L516.8,2972.0 L522.8,2977.1 L528.8,2982.2 L534.8,2987.3 L540.8,2992.4 L546.8,2997.4 L552.8,3002.5 L558.8,3007.5 L564.8,3012.5 L570.8,3017.5 L576.8,3022.5 L582.8,3027.4 L588.8,3032.4 L594.8,3037.3 L600.8,3042.2 L606.8,3047.0 L612.8,3051.8 L618.8,3056.6 L624.8,3061.4 L630.8,3066.1 L636.8,3070.8 L642.8,3075.5 L648.8,3080.1 L654.8,3084.7 L660.8,3089.3 L666.8,3093.8 L672.8,3098.3 L678.8,3102.7 L684.8,3107.1 L690.8,3111.5 L696.8,3115.8 L702.8,3120.1 L708.8,3124.3 L714.8,3128.5 L720.8,3132.7 L726.8,3136.8 L732.8,3140.8 L738.8,3144.8 L744.8,3148.8 L750.8,3152.7 L756.8,3156.5 L762.8,3160.4 L768.8,3164.1 L774.8,3167.8 L780.8,3171.5 L786.8,3175.0 L792.8,3178.6 L798.8,3182.1 L804.8,3185.5 L810.8,3188.9 L816.8,3192.2 L822.8,3195.4 L828.8,3198.6 L834.8,3201.8 L840.8,3204.9 L846.8,3207.9 L852.8,3210.9 L858.8,3213.8 L864.8,3216.7 L870.8,3219.6 L876.8,3222.3 L882.8,3225.1 L888.8,3227.8 L894.8,3230.5 L900.8,3233.1 L906.8,3235.6 L912.8,3238.2 L918.8,3240.7 L924.8,3243.1 L930.8,3245.5 L936.8,3247.9 L942.8,3250.3 L948.8,3252.6 L954.8,3254.9 L960.8,3257.1 L966.8,3259.3 L972.8,3261.5 L978.8,3263.7 L984.8,3265.8 L990.8,3267.9 L996.8,3270.0 L1002.8,3272.0 L1008.8,3274.0 L1014.8,3276.1 L1020.8,3278.0 L1026.8,3280.0 L1032.8,3281.9 L1038.8,3283.9 L1044.8,3285.8 L1050.8,3287.7 L1056.8,3289.5 L1062.8,3291.4 L1068.8,3293.3 L1074.8,3295.1 L1080.8,3296.9 L1086.8,3298.8 L1092.8,3300.6 L1098.8,3302.4 L1104.8,3304.2 L1110.8,3306.0 L1116.8,3307.8 L1122.8,3309.6 L1128.8,3311.4 L1134.8,3313.3 L1140.8,3315.1 L1146.8,3316.9 L1152.8,3318.7 L1158.8,3320.6 L1164.8,3322.4 L1170.8,3324.3 L1176.8,3326.2 L1182.8,3328.0 L1188.8,3330.0 L1194.8,3331.9 L1200.8,3333.8 L1206.8,3335.8 L1212.8,3337.8 L1218.8,3339.8 L1224.8,3341.8 L1230.8,3343.9 L1236.8,3346.0 L1242.8,3348.1 L1248.8,3350.2 L1254.8,3352.4 L1260.8,3354.6 L1266.8,3356.8 L1272.8,3359.1 L1278.8,3361.4 L1284.8,3363.8 L1290.8,3366.2 L1296.8,3368.6 L1302.8,3371.1 L1308.8,3373.6 L1314.8,3376.1 L1320.8,3378.7 L1326.8,3381.4 L1332.8,3384.1 L1338.8,3386.8 L1344.8,3389.6 L1350.8,3392.5 L1356.8,3395.3 L1362.8,3398.3 L1368.8,3401.2 L1374.8,3404.2 L1380.8,3407.3 L1386.8,3410.4 L1392.8,3413.5 L1398.8,3416.7 L1404.8,3420.0 L1410.8,3423.3 L1416.8,3426.6 L1422.8,3430.0 L1428.8,3433.4 L1434.8,3436.8 L1440.8,3440.4 L1446.8,3443.9 L1452.8,3447.5 L1458.8,3451.1 L1464.8,3454.8 L1470.8,3458.6 L1476.8,3462.3 L1482.8,3466.2 L1488.8,3470.0 L1494.8,3473.9 L1500.8,3477.9 L1506.8,3481.9 L1512.8,3486.0 L1518.8,3490.0 L1524.8,3494.2 L1530.8,3498.4 L1536.8,3502.6 L1542.8,3506.9 L1548.8,3511.2 L1554.8,3515.5 L1560.8,3519.9 L1566.8,3524.4 L1572.8,3528.9 L1578.8,3533.4 L1584.8,3538.0 L1590.8,3542.7 L1596.8,3547.3 L1602.8,3552.0 L1608.8,3556.8 L1614.8,3561.6 L1620.8,3566.4 L1626.8,3571.3 L1632.8,3576.2 L1638.8,3581.1 L1644.8,3586.1 L1650.8,3591.1 L1656.8,3596.1 L1662.8,3601.2 L1668.8,3606.2 L1674.8,3611.3 L1680.8,3616.4 L1686.8,3621.6 L1692.8,3626.7 L1698.8,3631.9 L1704.8,3637.1 L1710.8,3642.3 L1716.8,3647.5 L1722.8,3652.7 L1728.8,3657.9 L1734.8,3663.1 L1740.8,3668.3 L1746.8,3673.5 L1752.8,3678.8 L1758.8,3684.0 L1764.8,3689.2 L1770.8,3694.4 L1776.8,3699.6 L1777.8,3700.5" fill="none" stroke="#0000ff" stroke-width="2.6" stroke-linejoin="round" stroke-linecap="round"/>
<polygon points="451.00,2913.90 473.25,2952.90 428.75,2952.90" fill="#ff0000" stroke="#ff0000" stroke-width="2" stroke-linejoin="round"/>
<polygon points="782.58,3310.80 804.83,3349.80 760.33,3349.80" fill="#ff0000" stroke="#ff0000" stroke-width="2" stroke-linejoin="round"/>
<polygon points="1114.15,3449.00 1136.40,3488.00 1091.90,3488.00" fill="#ff0000" stroke="#ff0000" stroke-width="2" stroke-linejoin="round"/>
<polygon points="1445.72,3533.50 1467.97,3572.50 1423.47,3572.50" fill="#ff0000" stroke="#ff0000" stroke-width="2" stroke-linejoin="round"/>
<polygon points="1777.30,3746.00 1799.55,3785.00 1755.05,3785.00" fill="#ff0000" stroke="#ff0000" stroke-width="2" stroke-linejoin="round"/>
<polygon points="451.00,2941.50 473.25,2902.50 428.75,2902.50" fill="#0000ff" stroke="#0000ff" stroke-width="2" stroke-linejoin="round"/>
<polygon points="782.58,3227.40 804.83,3188.40 760.33,3188.40" fill="#0000ff" stroke="#0000ff" stroke-width="2" stroke-linejoin="round"/>
<polygon points="1114.15,3334.00 1136.40,3295.00 1091.90,3295.00" fill="#0000ff" stroke="#0000ff" stroke-width="2" stroke-linejoin="round"/>
<polygon points="1445.72,3433.50 1467.97,3394.50 1423.47,3394.50" fill="#0000ff" stroke="#0000ff" stroke-width="2" stroke-linejoin="round"/>
<polygon points="1777.30,3726.50 1799.55,3687.50 1755.05,3687.50" fill="#0000ff" stroke="#0000ff" stroke-width="2" stroke-linejoin="round"/>
<rect x="368" y="2770.5" width="1492.30" height="1066.50" fill="none" stroke="#000" stroke-width="4.2"/>
<line x1="369.00" y1="3623.70" x2="386.90" y2="3623.70" stroke="#000" stroke-width="4.2" stroke-linecap="round"/>
<line x1="369.00" y1="3410.40" x2="386.90" y2="3410.40" stroke="#000" stroke-width="4.2" stroke-linecap="round"/>
<line x1="369.00" y1="3197.10" x2="386.90" y2="3197.10" stroke="#000" stroke-width="4.2" stroke-linecap="round"/>
<line x1="369.00" y1="2983.80" x2="386.90" y2="2983.80" stroke="#000" stroke-width="4.2" stroke-linecap="round"/>
<line x1="451.00" y1="3836.00" x2="451.00" y2="3817.10" stroke="#000" stroke-width="4.2" stroke-linecap="round"/>
<line x1="782.58" y1="3836.00" x2="782.58" y2="3817.10" stroke="#000" stroke-width="4.2" stroke-linecap="round"/>
<line x1="1114.15" y1="3836.00" x2="1114.15" y2="3817.10" stroke="#000" stroke-width="4.2" stroke-linecap="round"/>
<line x1="1445.72" y1="3836.00" x2="1445.72" y2="3817.10" stroke="#000" stroke-width="4.2" stroke-linecap="round"/>
<line x1="1777.30" y1="3836.00" x2="1777.30" y2="3817.10" stroke="#000" stroke-width="4.2" stroke-linecap="round"/>
<text id="yl_c_0" transform="translate(346.85,3859.70) scale(0.975,1)" font-family="'Liberation Sans',Arial,sans-serif" font-size="85" font-weight="normal" fill="#000" text-anchor="end">0</text>
<text id="yl_c_500" transform="translate(346.01,3646.79) scale(0.975,1)" font-family="'Liberation Sans',Arial,sans-serif" font-size="85" font-weight="normal" fill="#000" text-anchor="end">500</text>
<text id="yl_c_1000" transform="translate(346.01,3433.49) scale(0.975,1)" font-family="'Liberation Sans',Arial,sans-serif" font-size="85" font-weight="normal" fill="#000" text-anchor="end">1000</text>
<text id="yl_c_1500" transform="translate(346.01,3220.19) scale(0.975,1)" font-family="'Liberation Sans',Arial,sans-serif" font-size="85" font-weight="normal" fill="#000" text-anchor="end">1500</text>
<text id="yl_c_2000" transform="translate(346.01,3006.89) scale(0.975,1)" font-family="'Liberation Sans',Arial,sans-serif" font-size="85" font-weight="normal" fill="#000" text-anchor="end">2000</text>
<text id="yl_c_2500" transform="translate(345.20,2793.95) scale(0.975,1)" font-family="'Liberation Sans',Arial,sans-serif" font-size="85" font-weight="normal" fill="#000" text-anchor="end">2500</text>
<text id="xl_c_0" transform="translate(373.30,3916.45) scale(0.96,1)" font-family="'Liberation Sans',Arial,sans-serif" font-size="85" font-weight="normal" fill="#000" text-anchor="start">1:1.0</text>
<text id="xl_c_1" transform="translate(704.88,3916.45) scale(0.96,1)" font-family="'Liberation Sans',Arial,sans-serif" font-size="85" font-weight="normal" fill="#000" text-anchor="start">1:1.5</text>
<text id="xl_c_2" transform="translate(1036.45,3916.45) scale(0.96,1)" font-family="'Liberation Sans',Arial,sans-serif" font-size="85" font-weight="normal" fill="#000" text-anchor="start">1:2.0</text>
<text id="xl_c_3" transform="translate(1368.02,3916.45) scale(0.96,1)" font-family="'Liberation Sans',Arial,sans-serif" font-size="85" font-weight="normal" fill="#000" text-anchor="start">1:2.5</text>
<text id="xl_c_4" transform="translate(1699.60,3916.45) scale(0.96,1)" font-family="'Liberation Sans',Arial,sans-serif" font-size="85" font-weight="normal" fill="#000" text-anchor="start">1:3.0</text>
<text id="xt_c" transform="translate(806.55,4031.80) scale(0.977,1)" font-family="'Liberation Sans',Arial,sans-serif" font-size="100" font-weight="bold" fill="#000" text-anchor="start">Hard:Soft ratio</text>
<text id="pl_c" transform="translate(1646.45,2922.15) scale(1.0,1)" font-family="'Liberation Serif','Times New Roman',serif" font-size="108" font-weight="bold" fill="#000" text-anchor="start">(c)</text>
<line x1="459.9" y1="3607.7" x2="684.0" y2="3607.7" stroke="#ff0000" stroke-width="2.6"/>
<line x1="459.9" y1="3713.3" x2="684.0" y2="3713.3" stroke="#0000ff" stroke-width="2.6"/>
<polygon points="572.50,3572.37 603.00,3625.37 542.00,3625.37" fill="#ff0000" stroke="#ff0000" stroke-width="2" stroke-linejoin="round"/>
<polygon points="572.50,3748.63 603.00,3695.63 542.00,3695.63" fill="#0000ff" stroke="#0000ff" stroke-width="2" stroke-linejoin="round"/>
<text id="lg1_c" transform="translate(706.40,3636.50) scale(1.0,1)" font-family="'Liberation Serif','Times New Roman',serif" font-size="86" font-weight="normal" fill="#ff0000" text-anchor="start">T = 300 K</text>
<text id="lg2_c" transform="translate(706.40,3741.25) scale(1.0,1)" font-family="'Liberation Serif','Times New Roman',serif" font-size="86" font-weight="normal" fill="#0000ff" text-anchor="start">T = 10 K</text>
<text id="yt_a_M" transform="translate(173.50,913.85) rotate(-90) scale(0.965,1)" font-family="'Liberation Sans',Arial,sans-serif" font-size="108" font-weight="bold" fill="#000" text-anchor="start">M</text>
<text id="yt_a_s" transform="translate(215.20,831.85) rotate(-90) scale(1.0,1)" font-family="'Liberation Sans',Arial,sans-serif" font-size="64" font-weight="bold" fill="#000" text-anchor="start">s</text>
<text id="yt_a_u" transform="translate(174.70,769.80) rotate(-90) scale(0.971,1)" font-family="'Liberation Sans',Arial,sans-serif" font-size="105" font-weight="bold" fill="#000" text-anchor="start">(emu/g)</text>
<text id="yt_b_M" transform="translate(163.40,2233.60) rotate(-90) scale(0.965,1)" font-family="'Liberation Sans',Arial,sans-serif" font-size="108" font-weight="bold" fill="#000" text-anchor="start">M</text>
<text id="yt_b_r" transform="translate(203.75,2147.70) rotate(-90) scale(1.0,1)" font-family="'Liberation Sans',Arial,sans-serif" font-size="64" font-weight="bold" fill="#000" text-anchor="start">r</text>
<text id="yt_b_u" transform="translate(164.85,2096.80) rotate(-90) scale(0.971,1)" font-family="'Liberation Sans',Arial,sans-serif" font-size="105" font-weight="bold" fill="#000" text-anchor="start">(emu/g)</text>
<text id="yt_c_H" transform="translate(96.85,3463.65) rotate(-90) scale(0.965,1)" font-family="'Liberation Sans',Arial,sans-serif" font-size="108" font-weight="bold" fill="#000" text-anchor="start">H</text>
<text id="yt_c_c" transform="translate(137.10,3391.20) rotate(-90) scale(1.0,1)" font-family="'Liberation Sans',Arial,sans-serif" font-size="64" font-weight="bold" fill="#000" text-anchor="start">c</text>
<text id="yt_c_u" transform="translate(97.20,3329.50) rotate(-90) scale(0.971,1)" font-family="'Liberation Sans',Arial,sans-serif" font-size="105" font-weight="bold" fill="#000" text-anchor="start">(Oe)</text>
</svg>
</body></html>
